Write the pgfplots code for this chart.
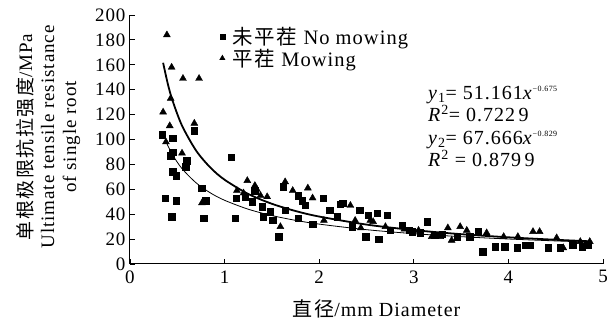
\documentclass[border=0pt]{standalone}
\usepackage{pgfplots}
\pgfplotsset{compat=1.18}
\usepackage{fontspec}
\setmainfont{Liberation Serif}[LetterSpace=5]
\newfontfamily\cjk{Noto Sans CJK SC}[LetterSpace=8]
\begin{document}
\begin{tikzpicture}
\useasboundingbox (-130pt,-59pt) rectangle (483pt,264pt);
\begin{axis}[
  scale only axis, width=473pt, height=249pt,
  xmin=0, xmax=5, ymin=0, ymax=200,
  axis x line*=bottom, axis y line*=left,
  axis line style={line width=1pt},
  tick align=inside, major tick length=5pt,
  tick style={line width=0.9pt, black},
  xtick={0,1,2,3,4,5}, ytick={0,20,...,200},
  /pgf/number format/assume math mode=true,
  tick label style={font=\fontsize{19}{19}\selectfont},
  xticklabel style={yshift=-3pt},
  yticklabel style={xshift=-1pt},
  xlabel={{\cjk 直径}/mm Diameter},
  xlabel style={font=\fontsize{20}{20}\selectfont, yshift=-9pt, xshift=10pt},
  legend style={draw=none, fill=none, at={(0.186,0.96)}, anchor=north west,
    font=\fontsize{20.5}{22}\selectfont, inner sep=0pt, row sep=-1pt,
    nodes={inner sep=2pt}},
  legend cell align=left,
  legend image code/.code={\path (0pt,0pt) (12pt,0pt);\draw plot coordinates {(4pt,0pt)};},
  clip=false,
]
% No mowing (squares)
\addplot[only marks, mark=square*, mark size=3.2pt, black,
  legend image post style={mark size=2.6pt}] coordinates {
(0.34,104)(0.45,101)(0.68,107)(0.45,90)(0.43,87)(0.60,83)(0.59,78)(0.45,74)(0.49,71)
(1.07,86)(0.76,61)(0.37,53)(0.49,51)(0.80,51)(0.44,38)(0.78,37)(1.11,37)(1.12,53)
(1.22,54)(1.29,50)(1.32,59)(1.40,46)(1.41,38)(1.48,42)(1.51,35)(1.57,22)(1.62,62)
(1.64,43)(1.78,55)(1.82,51)(1.85,47)(1.78,37)(1.93,32)(2.04,53)(2.11,43)(2.19,38)
(2.22,48)(2.25,49)(2.35,30)(2.43,43)(2.49,22)(2.52,39)(2.61,41)(2.72,39)(2.63,20)
(2.75,27)(2.88,31)(2.98,26)(3.07,25)(3.14,34)(3.22,23)(3.46,22)(3.59,22)(3.68,26)
(3.73,10)(3.86,14)(3.96,14)(4.09,13)(4.18,15)(4.23,15)(4.42,13)(4.55,13)(4.68,15)
(4.78,14)(4.84,15)(3.30,24)(2.95,27)
};
\addlegendentry{{\cjk 未平茬} No mowing}
% Mowing (triangles)
\addplot[only marks, mark=triangle*, mark size=4pt, black,
  legend image post style={mark size=3.1pt}] coordinates {
(0.39,184)(0.44,158)(0.56,149)(0.73,149)(0.43,133)(0.35,122)(0.42,111)(0.68,113)
(0.38,98)(0.55,89)(0.76,49)(1.24,67)(1.13,59)(1.32,63)(1.34,60)(1.45,54)(1.59,30)
(1.64,66)(1.72,59)(1.88,61)(1.93,53)(2.05,35)(2.33,47)(2.38,35)(2.44,29)(2.57,34)
(2.54,35)(2.70,30)(2.90,28)(3.05,27)(3.19,22)(3.28,22)(3.36,29)(3.49,30)(3.56,27)
(3.40,19)(3.77,25)(3.95,22)(4.10,22)(4.26,26)(4.33,26)(4.51,21)(4.58,13)(4.76,18)
(4.86,18)(1.20,57)(1.38,55)
};
\addlegendentry{{\cjk 平茬} Mowing}
% fitted curve y1 (No mowing)
\addplot[forget plot, smooth, line width=0.8pt, black] coordinates {
(0.38,98.3)(0.45,87.7)(0.55,76.6)(0.7,65.1)(0.85,57.1)(1.0,51.16)(1.25,44.0)(1.5,38.9)
(1.75,35.07)(2.0,32.04)(2.5,27.56)(3.0,24.37)(3.5,21.96)(4.0,20.07)(4.5,18.54)(4.85,17.62)
};
% fitted curve y2 (Mowing)
\addplot[forget plot, smooth, line width=1.8pt, black] coordinates {
(0.35,161.6)(0.4,144.6)(0.45,131.2)(0.55,111.1)(0.7,90.95)(0.85,77.42)(1.0,67.67)
(1.25,56.24)(1.5,48.35)(1.75,42.55)(2.0,38.10)(2.5,31.66)(3.0,27.22)(3.5,23.95)
(4.0,21.44)(4.5,19.45)(4.85,18.28)
};
\node[anchor=north west, align=left, inner sep=0pt, font=\fontsize{20}{22.5}\selectfont]
  at (axis cs:3.15,143) {%
  \textit{y}\textsubscript{1}= 51.161\textit{x}\textsuperscript{\fontsize{8}{8}\selectfont −0.675}\\
  \textit{R}\textsuperscript{2}= 0.722\,9\\
  \textit{y}\textsubscript{2}= 67.666\textit{x}\textsuperscript{\fontsize{8}{8}\selectfont −0.829}\\
  \textit{R}\textsuperscript{2} = 0.879\,9};
\end{axis}
\node[rotate=90, align=center, font=\fontsize{19}{22}\selectfont] at (-82pt,127pt)
  {{\cjk 单根极限抗拉强度}/MPa\\Ultimate tensile resistance\\of single root};
\end{tikzpicture}
\end{document}
